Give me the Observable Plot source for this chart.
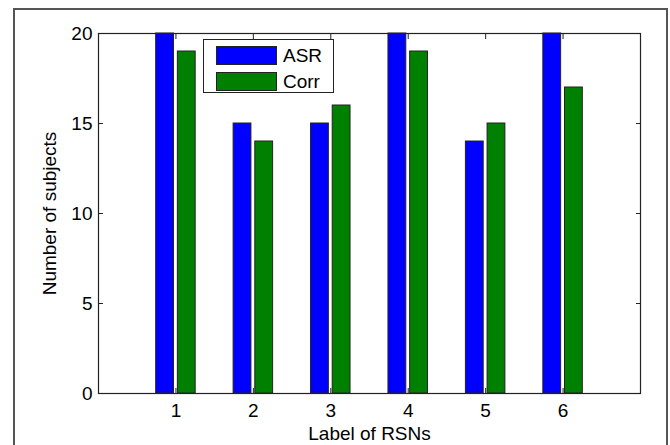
<!DOCTYPE html>
<html>
<head>
<meta charset="utf-8">
<script src="https://cdn.jsdelivr.net/npm/d3@7"></script>
<script src="https://cdn.jsdelivr.net/npm/@observablehq/plot@0.6"></script>
<style>
  html, body { margin: 0; padding: 0; background: #fff; }
  #wrap { position: relative; width: 670px; height: 445px; overflow: hidden; font-family: "Liberation Sans", Arial, sans-serif; }
  #border { position: absolute; left: 13px; top: 8px; width: 655px; height: 450px; border: 2px solid #555; box-sizing: border-box; }
  #legend { position: absolute; left: 203px; top: 39px; width: 131px; height: 54px; border: 1px solid #222; background: #fff; box-sizing: border-box; }
  .item { position: absolute; left: 12px; height: 19px; display: flex; align-items: center; }
  .sw { width: 61px; height: 19px; border: 1px solid #222; box-sizing: border-box; margin-right: 6px; }
  .lab { font-size: 19px; color: #000; }
</style>
</head>
<body>
<div id="wrap">
  <div id="border"></div>
  <div id="chart"></div>
  <div id="legend"></div>
</div>
<script>
const groups = [1, 2, 3, 4, 5, 6];
const asr = [20, 15, 15, 20, 14, 20];
const corr = [19, 14, 16, 19, 15, 17];
const seriesNames = ["ASR", "Corr"];
const seriesColors = ["#0000ff", "#008000"];
const yTicks = [0, 5, 10, 15, 20];
const xTicks = [1, 2, 3, 4, 5, 6];

const barWidth = 0.23, gap = 0.025;
const data = [];
groups.forEach((g, i) => {
  data.push({group: g, series: "ASR", value: asr[i], x1: g - gap - barWidth, x2: g - gap});
  data.push({group: g, series: "Corr", value: corr[i], x1: g + gap, x2: g + gap + barWidth});
});

const font = "Liberation Sans, Arial, sans-serif";
const fs = 19;
const plot = Plot.plot({
  width: 670,
  height: 445,
  marginLeft: 98,
  marginRight: 30,
  marginTop: 33,
  marginBottom: 52,
  style: {fontFamily: font, fontSize: fs + "px", color: "#000", background: "transparent"},
  x: {domain: [0, 7]},
  y: {domain: [0, 20]},
  color: {domain: seriesNames, range: seriesColors},
  marks: [
    Plot.rectY(data, {x1: "x1", x2: "x2", y1: 0, y2: "value", fill: "series", stroke: "#222", strokeWidth: 1}),
    Plot.frame({stroke: "#222", strokeWidth: 1.2}),
    Plot.axisX(xTicks, {anchor: "bottom", tickSize: -5, tickPadding: 15, fontSize: fs, stroke: "#222", label: "Label of RSNs", labelAnchor: "center", labelArrow: "none", labelOffset: 46}),
    Plot.axisX(xTicks, {anchor: "top", tickSize: -5, tickFormat: () => "", stroke: "#222", label: null}),
    Plot.axisY(yTicks, {anchor: "left", tickSize: -5, tickPadding: 11, fontSize: fs, stroke: "#222", label: "Number of subjects", labelAnchor: "center", labelArrow: "none", labelOffset: 56}),
    Plot.axisY(yTicks, {anchor: "right", tickSize: -5, tickFormat: () => "", stroke: "#222", label: null})
  ]
});
document.getElementById("chart").appendChild(plot);

const legend = document.getElementById("legend");
seriesNames.forEach((name, i) => {
  const item = document.createElement("div");
  item.className = "item";
  item.style.top = (6 + i * 26) + "px";
  const sw = document.createElement("div");
  sw.className = "sw";
  sw.style.background = seriesColors[i];
  const lab = document.createElement("span");
  lab.className = "lab";
  lab.textContent = name;
  item.appendChild(sw);
  item.appendChild(lab);
  legend.appendChild(item);
});
</script>
</body>
</html>
